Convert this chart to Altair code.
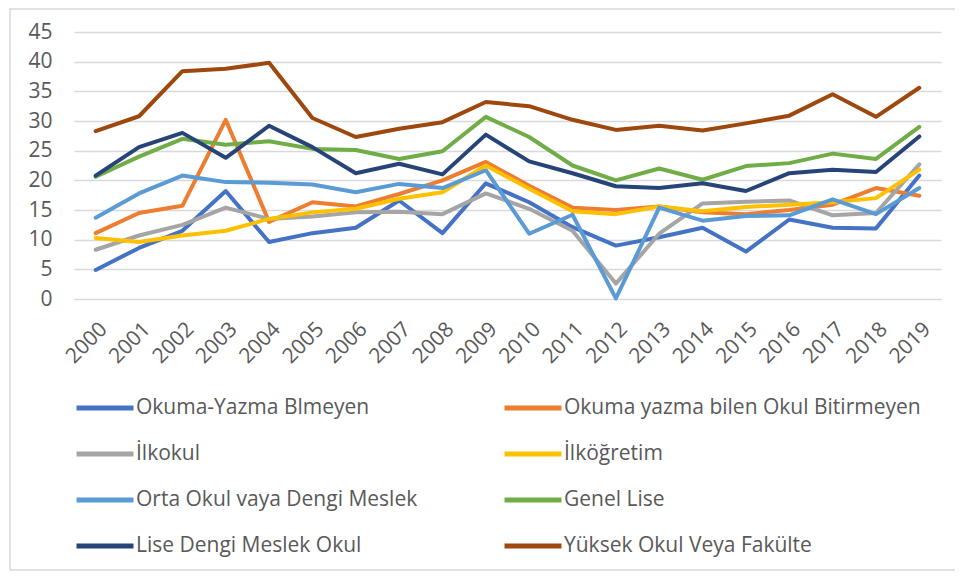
import altair as alt
import pandas as pd

years = [str(y) for y in range(2000, 2020)]

series_names = [
    "Okuma-Yazma Blmeyen",
    "Okuma yazma bilen Okul Bitirmeyen",
    "İlkokul",
    "İlköğretim",
    "Orta Okul vaya Dengi Meslek",
    "Genel Lise",
    "Lise Dengi Meslek Okul",
    "Yüksek Okul Veya Fakülte",
]

okuma_yazma_blmeyen = [4.9, 8.6, 11.5, 18.2, 9.6, 11.1, 12.0, 16.6, 11.1, 19.5,
                       16.3, 12.1, 9.0, 10.4, 12.0, 8.0, 13.4, 12.0, 11.9, 20.8]
okuma_yazma_bilen = [11.1, 14.5, 15.7, 30.2, 13.0, 16.3, 15.6, 17.7, 20.0, 23.1,
                     19.1, 15.4, 15.0, 15.6, 14.6, 14.3, 15.0, 15.9, 18.7, 17.4]
ilkokul = [8.3, 10.7, 12.5, 15.4, 13.5, 13.9, 14.6, 14.7, 14.3, 17.8,
           15.2, 11.5, 2.6, 11.0, 16.1, 16.4, 16.6, 14.1, 14.5, 22.7]
ilkogretim = [10.3, 9.6, 10.7, 11.5, 13.5, 14.6, 15.2, 16.9, 18.0, 22.5,
              18.6, 14.8, 14.3, 15.6, 14.8, 15.5, 15.9, 16.3, 17.0, 21.8]
orta_okul = [13.7, 17.8, 20.8, 19.7, 19.6, 19.3, 18.0, 19.4, 18.7, 21.7,
             11.0, 14.2, 0.1, 15.4, 13.2, 14.0, 14.1, 16.8, 14.3, 18.7]
genel_lise = [20.6, 24.0, 27.0, 26.0, 26.6, 25.3, 25.1, 23.6, 24.9, 30.7,
              27.3, 22.5, 20.0, 22.0, 20.1, 22.4, 22.9, 24.5, 23.6, 29.0]
lise_dengi = [20.8, 25.6, 28.0, 23.8, 29.2, 25.6, 21.2, 22.8, 21.0, 27.7,
              23.2, 21.2, 19.0, 18.7, 19.5, 18.2, 21.2, 21.8, 21.4, 27.4]
yuksek_okul = [28.3, 30.8, 38.4, 38.8, 39.8, 30.5, 27.3, 28.7, 29.8, 33.2,
               32.5, 30.2, 28.5, 29.2, 28.4, 29.6, 30.9, 34.5, 30.7, 35.6]

colors = ["#4472C4", "#ED7D31", "#A5A5A5", "#FFC000",
          "#5B9BD5", "#70AD47", "#264478", "#9E480E"]

all_values = [okuma_yazma_blmeyen, okuma_yazma_bilen, ilkokul, ilkogretim,
              orta_okul, genel_lise, lise_dengi, yuksek_okul]

rows = []
for name, vals in zip(series_names, all_values):
    for y, v in zip(years, vals):
        rows.append({"Yıl": y, "Seri": name, "Değer": v})
df = pd.DataFrame(rows)

FONT = "Open Sans"
TXT = "#595959"

lines = alt.Chart(df).mark_line(strokeWidth=4, strokeCap="round", strokeJoin="round").encode(
    x=alt.X("Yıl:O", sort=years, title=None,
            axis=alt.Axis(labelAngle=-45, labelFontSize=21, labelColor=TXT, labelFont=FONT,
                          ticks=False, domain=False, grid=False, labelPadding=19)),
    y=alt.Y("Değer:Q", title=None,
            scale=alt.Scale(domain=[0, 45], nice=False),
            axis=alt.Axis(values=list(range(0, 50, 5)), labelFontSize=21, labelColor=TXT,
                          labelFont=FONT, ticks=False, domain=False, gridColor="#D9D9D9",
                          gridWidth=1.5, labelPadding=22)),
    color=alt.Color("Seri:N", sort=series_names,
                    scale=alt.Scale(domain=series_names, range=colors),
                    legend=alt.Legend(title=None, orient="none", legendX=0, legendY=345,
                                      direction="horizontal",
                                      columns=2, symbolType="stroke", symbolSize=3249,
                                      symbolStrokeWidth=5, labelFontSize=21, labelFont=FONT,
                                      labelColor=TXT, labelLimit=600, labelOffset=0,
                                      columnPadding=76, rowPadding=5)),
    order=alt.Order("Yıl:O"),
)

border = alt.Chart(pd.DataFrame({"a": [0]})).mark_rect(
    fill=None, stroke="#D9D9D9", strokeWidth=1.5
).encode(x=alt.value(-64), x2=alt.value(900), y=alt.value(-23), y2=alt.value(538))

chart = alt.layer(border, lines).properties(
    width=867, height=267,
    autosize=alt.AutoSizeParams(type="none"),
    padding={"left": 66, "top": 24, "right": 14, "bottom": 272},
).configure_view(stroke=None)

chart.save("out.html", embed_options={"renderer": "svg", "actions": False})
